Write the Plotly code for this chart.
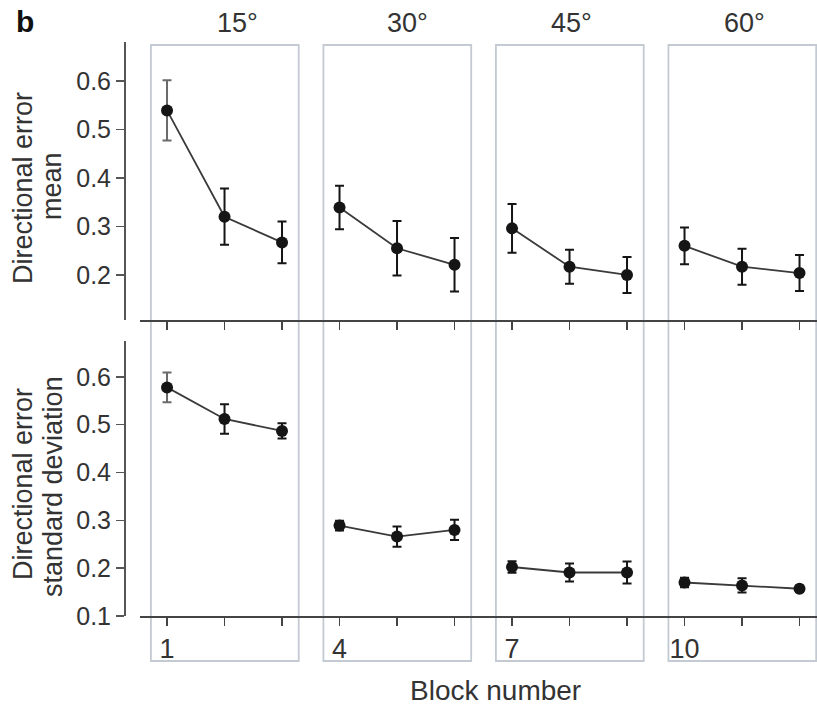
import plotly.graph_objects as go

# ---------------- data ----------------
blocks = [1, 2, 3, 4, 5, 6, 7, 8, 9, 10, 11, 12]
group_labels = ["15°", "30°", "45°", "60°"]
mean_vals = [0.539, 0.320, 0.267, 0.339, 0.255, 0.221, 0.296, 0.217, 0.200, 0.260, 0.217, 0.204]
mean_err = [0.062, 0.058, 0.043, 0.045, 0.056, 0.055, 0.050, 0.035, 0.037, 0.038, 0.037, 0.037]
sd_vals = [0.578, 0.512, 0.487, 0.289, 0.266, 0.280, 0.2025, 0.191, 0.191, 0.170, 0.164, 0.157]
sd_err = [0.031, 0.031, 0.016, 0.010, 0.021, 0.021, 0.012, 0.019, 0.023, 0.010, 0.015, 0.006]
x_tick_text = ["1", "", "", "4", "", "", "7", "", "", "10", "", ""]
mean_ticks = [0.2, 0.3, 0.4, 0.5, 0.6]
sd_ticks = [0.1, 0.2, 0.3, 0.4, 0.5, 0.6]

W, H = 817, 707
FONT = "Liberation Sans, Arial, Helvetica, sans-serif"
TXT = "#333333"
AX = "#555555"

fig = go.Figure()

panels = [
    (mean_vals, mean_err, "x2", "y2"),
    (sd_vals, sd_err, "x", "y"),
]
for vals, errs, xa, ya in panels:
    for g in range(len(group_labels)):
        sl = slice(3 * g, 3 * g + 3)
        fig.add_trace(go.Scatter(
            x=blocks[sl], y=vals[sl], mode="lines",
            line=dict(color="#3a3a3a", width=1.8),
            xaxis=xa, yaxis=ya, showlegend=False, hoverinfo="skip"))
    # first block: grey error bar
    fig.add_trace(go.Scatter(
        x=blocks[:1], y=vals[:1], mode="markers",
        marker=dict(size=12, color="#151515"),
        error_y=dict(type="data", array=errs[:1], color="#6a6a6a", thickness=2, width=4.5),
        xaxis=xa, yaxis=ya, showlegend=False))
    fig.add_trace(go.Scatter(
        x=blocks[1:], y=vals[1:], mode="markers",
        marker=dict(size=12, color="#151515"),
        error_y=dict(type="data", array=errs[1:], color="#151515", thickness=2, width=4.5),
        xaxis=xa, yaxis=ya, showlegend=False))

# ---------------- layout ----------------
xdom = [140 / W, 1.0]
xrange = [0.530, 12.304]
ypos = 124 / W

common_x = dict(domain=xdom, range=xrange, showline=True, linecolor="#444444", linewidth=1.6,
                ticks="outside", ticklen=8, tickwidth=1.6, tickcolor="#444444",
                tickvals=blocks, showgrid=False, zeroline=False, fixedrange=True)
common_y = dict(anchor="free", position=ypos, showline=True, linecolor=AX, linewidth=1.6,
                ticks="outside", ticklen=8, tickwidth=1.4, tickcolor=AX,
                showgrid=False, zeroline=False, tickformat=".1f", fixedrange=True,
                tickfont=dict(size=25, color=TXT, family=FONT))

fig.update_layout(
    width=W, height=H,
    margin=dict(l=0, r=0, t=0, b=0, autoexpand=False),
    paper_bgcolor="white", plot_bgcolor="rgba(0,0,0,0)",
    font=dict(family=FONT, color=TXT),
    xaxis=dict(**common_x, anchor="y", ticktext=x_tick_text,
               tickfont=dict(size=27, color=TXT, family=FONT), ticklabelstandoff=0),
    xaxis2=dict(**common_x, anchor="y2", showticklabels=False, matches="x"),
    yaxis=dict(**common_y, domain=[1 - 616 / H, 1 - 341 / H], range=[0.1, 0.675], tickvals=sd_ticks),
    yaxis2=dict(**common_y, domain=[1 - 320 / H, 1 - 42 / H], range=[0.1072, 0.680], tickvals=mean_ticks),
)

# group rectangles
shapes = []
for g in range(len(group_labels)):
    first, last = blocks[3 * g], blocks[3 * g + 2]
    shapes.append(dict(type="rect", xref="x", yref="paper",
                       x0=first - 0.28, x1=last + 0.29,
                       y0=1 - 661 / H, y1=1 - 45 / H,
                       line=dict(color="#c3cad2", width=1.8), layer="below"))
fig.update_layout(shapes=shapes)

annotations = []
header_px = [237, 407, 571, 744]
for lab, px in zip(group_labels, header_px):
    annotations.append(dict(text=lab, x=px / W, y=1 - 23 / H, xref="paper", yref="paper",
                            showarrow=False, xanchor="center", yanchor="middle",
                            font=dict(size=27, color=TXT, family=FONT)))
annotations.append(dict(text="<b>b</b>", x=25 / W, y=1 - 21 / H, xref="paper", yref="paper",
                        showarrow=False, xanchor="center", yanchor="middle",
                        font=dict(size=30, color="#111111", family=FONT)))
annotations.append(dict(text="Block number", x=495 / W, y=1 - 690 / H, xref="paper", yref="paper",
                        showarrow=False, xanchor="center", yanchor="middle",
                        font=dict(size=28, color=TXT, family=FONT)))
ytitles = [
    ("Directional error", 23, 188),
    ("mean", 52, 186),
    ("Directional error", 23, 484),
    ("standard deviation", 53, 487),
]
for t, px, py in ytitles:
    annotations.append(dict(text=t, x=px / W, y=1 - py / H, xref="paper", yref="paper",
                            showarrow=False, xanchor="center", yanchor="middle", textangle=-90,
                            font=dict(size=27, color=TXT, family=FONT)))
fig.update_layout(annotations=annotations)

fig.write_html(
    "out.html",
    config={"displayModeBar": False, "staticPlot": True},
    post_script="document.body.style.margin='0';document.body.style.overflow='hidden';",
)
